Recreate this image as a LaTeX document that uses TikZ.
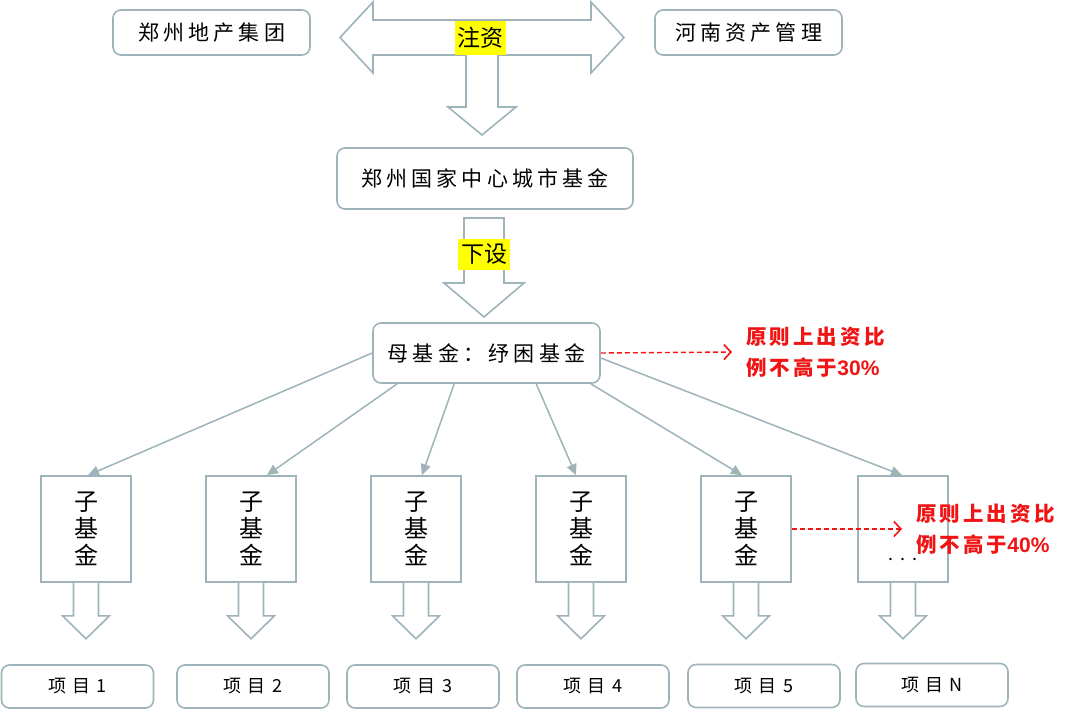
\documentclass[tikz,border=0pt]{standalone}
\usepackage{fontspec}
\setmainfont{Noto Sans CJK SC}
\newfontfamily\cjkA[LetterSpace=20]{Noto Sans CJK SC}
\newfontfamily\cjkB[LetterSpace=35]{Noto Sans CJK SC}
\newfontfamily\cjkR[LetterSpace=15]{Noto Sans CJK SC}
\newfontfamily\numfont{Liberation Sans}
\usetikzlibrary{arrows.meta,calc}
\definecolor{edge}{RGB}{158,180,186}
\definecolor{hl}{RGB}{255,255,0}
\definecolor{rd}{RGB}{240,20,20}
\tikzset{
  rbox/.style={draw=edge,line width=1.6pt,rounded corners=8pt,fill=white,inner sep=0pt,align=center},
  sbox/.style={draw=edge,line width=1.6pt,fill=white,inner sep=0pt,minimum width=90pt,minimum height=106pt,align=center,font=\fontsize{24}{27}\selectfont},
  pbox/.style={rbox,minimum width=152pt,minimum height=43pt,font=\cjkB\fontsize{18}{20}\selectfont},
  blk/.style={draw=edge,line width=1.6pt,fill=white,line join=miter},
  hlab/.style={fill=hl,inner sep=0pt,font=\fontsize{23}{25}\selectfont},
  link/.style={draw=edge,line width=1.5pt,-{Triangle[length=11pt,width=10pt]}},
  rlink/.style={draw=rd,line width=1.4pt,dashed,dash pattern=on 5pt off 3pt,-{Straight Barb[length=7pt,width=15pt,line width=1.6pt]}},
  rtext/.style={text=rd,inner sep=0pt,align=left,font=\cjkR\bfseries\fontsize{20.5}{31}\selectfont}
}
\newcommand{\pct}[1]{{\numfont\bfseries\fontsize{21}{31}\selectfont #1\%}}
\begin{document}
\begin{tikzpicture}[x=1pt,y=-1pt]
\useasboundingbox[fill=white] (0,0) rectangle (1080,711);
% top boxes
\node[rbox,minimum width=197pt,minimum height=45pt,font=\cjkA\fontsize{21}{23}\selectfont] (a) at (211.5,32.5) {郑州地产集团};
\node[rbox,minimum width=187pt,minimum height=45pt,font=\cjkA\fontsize{21}{23}\selectfont] (b) at (748.5,32.5) {河南资产管理};
% double arrow with down branch
\draw[blk] (340,37.5) -- (373,2) -- (373,20) -- (591,20) -- (591,2) -- (624,37.5) -- (591,73) -- (591,55)
  -- (498,55) -- (498,107) -- (516,107) -- (482,135) -- (448,107) -- (466,107) -- (466,55)
  -- (373,55) -- (373,73) -- cycle;
\node[hlab,minimum width=51pt,minimum height=34pt] (zz) at (480.5,38) {注资};
% city fund
\node[rbox,minimum width=296pt,minimum height=61pt,font=\cjkA\fontsize{21}{23}\selectfont] (c) at (485,178.5) {郑州国家中心城市基金};
% down arrow
\draw[blk] (464,218) -- (504,218) -- (504,283) -- (524,283) -- (484,317) -- (444,283) -- (464,283) -- cycle;
\node[hlab,minimum width=52pt,minimum height=31pt] (xs) at (484,254.5) {下设};
% mother fund
\node[rbox,minimum width=227pt,minimum height=60pt,font=\cjkA\fontsize{21}{23}\selectfont] (m) at (486.5,353) {母基金：纾困基金};
% red note 1
\node[rtext,anchor=west] (r1) at (746,352) {原则上出资比\\例不高于\pct{30}};
\draw[rlink] (m.east) -- ([xshift=-14pt]r1.west);
% sub funds
\foreach \i/\x in {1/86,2/251,3/416,4/581,5/746}{
  \node[sbox] (s\i) at (\x,529) {子\\基\\金};
}
\node[sbox] (s6) at (903,529) {};
\node[inner sep=0pt,font=\fontsize{18}{18}\selectfont] (dots) at (903,559) {.\hspace{7pt}.\hspace{7pt}.};
% sub arrows
\foreach \i in {1,...,6}{
  \draw[blk] ($(s\i.south)+(-12.5,0)$) -- ($(s\i.south)+(-12.5,33)$) -- ($(s\i.south)+(-23.5,33)$)
    -- ($(s\i.south)+(0,56)$) -- ($(s\i.south)+(23.5,33)$) -- ($(s\i.south)+(12.5,33)$) -- ($(s\i.south)+(12.5,0)$);
}
% links
\draw[link] (m.west) -- ([xshift=2pt]s1.north);
\draw[link] ([xshift=25pt]m.south west) -- ([xshift=16pt]s2.north);
\draw[link] ([xshift=82pt]m.south west) -- ([xshift=6pt]s3.north);
\draw[link] ([xshift=164pt]m.south west) -- ([xshift=-5pt]s4.north);
\draw[link] ([xshift=-10pt]m.south east) -- ([xshift=-4pt]s5.north);
\draw[link] ([yshift=-5pt]m.east) -- ([xshift=-1pt]s6.north);
% red note 2
\node[rtext,anchor=west] (r2) at (916,529) {原则上出资比\\例不高于\pct{40}};
\draw[rlink] (s5.east) -- ([xshift=-14pt]r2.west);
% projects
\node[pbox] (p1) at (77.5,686.5) {项目1};
\node[pbox] (p2) at (253,686.5) {项目2};
\node[pbox] (p3) at (423,686.5) {项目3};
\node[pbox] (p4) at (593,686.5) {项目4};
\node[pbox] (p5) at (764,686) {项目5};
\node[pbox] (p6) at (932,685) {项目N};
\end{tikzpicture}
\end{document}
